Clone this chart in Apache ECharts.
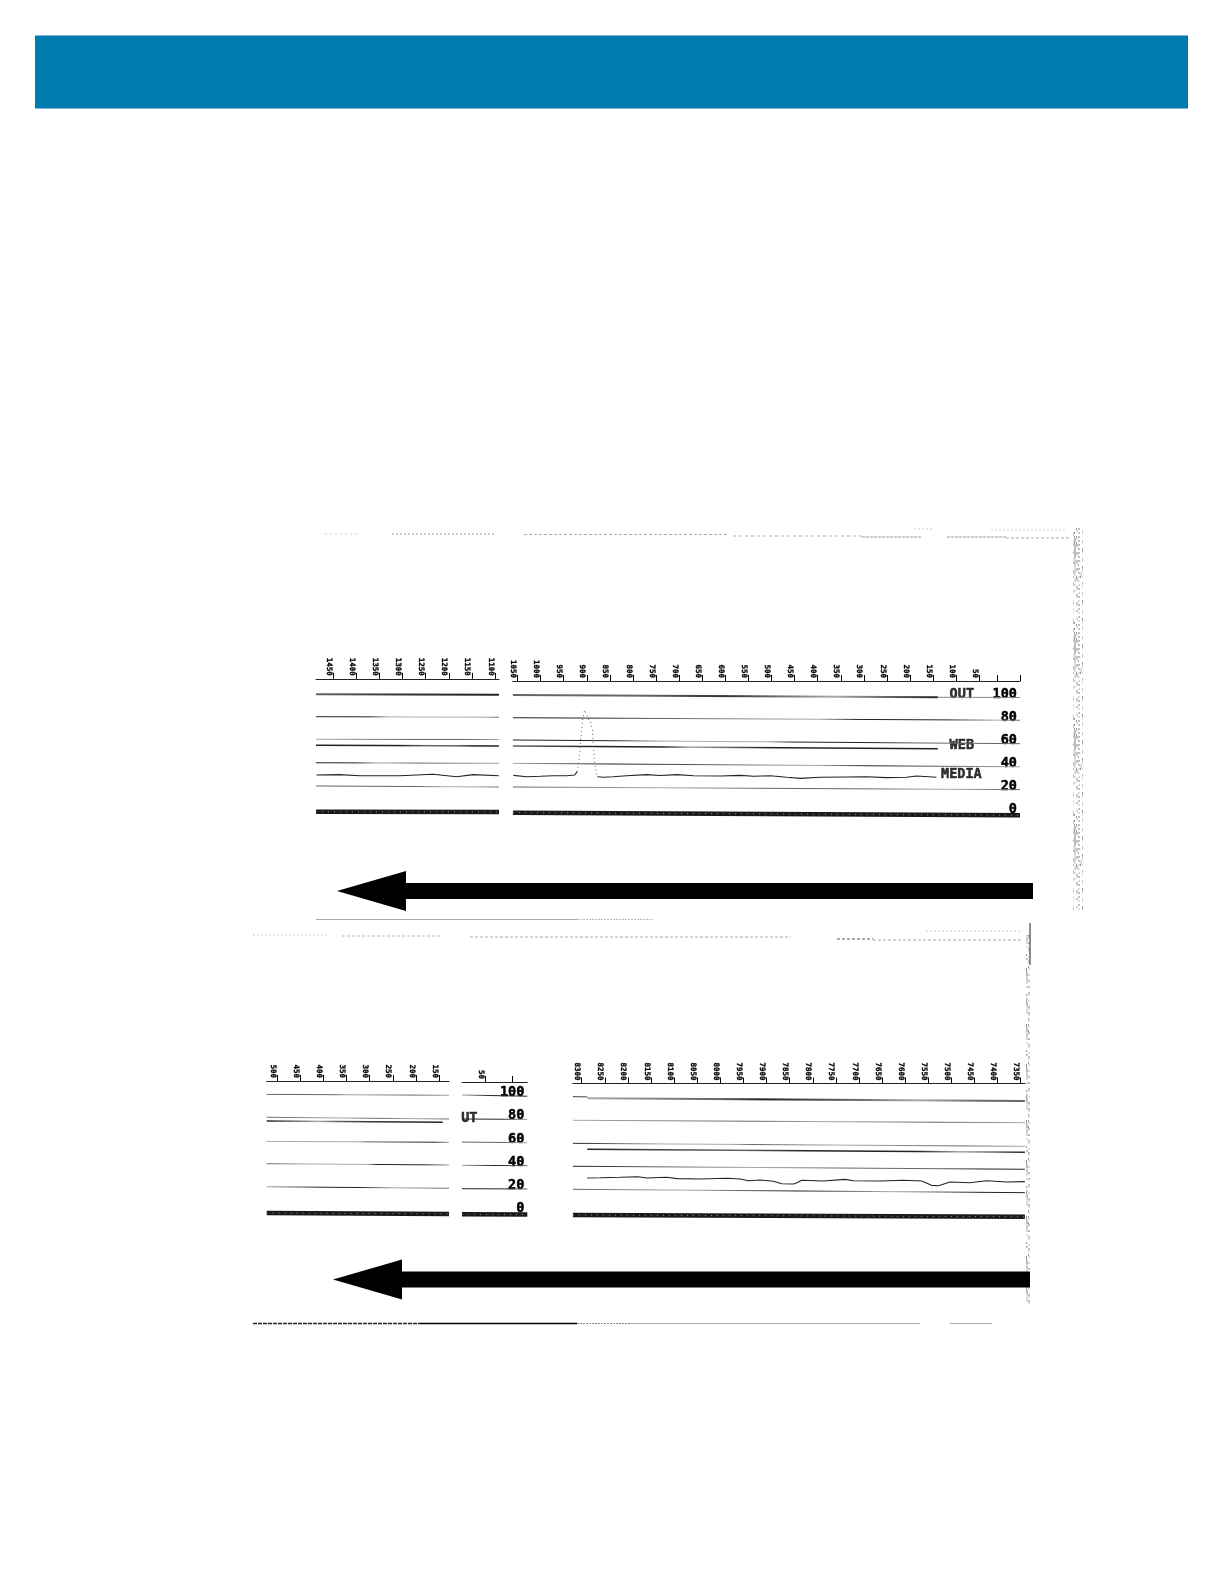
<!DOCTYPE html>
<html><head><meta charset="utf-8">
<script src="https://cdn.jsdelivr.net/npm/echarts@6/dist/echarts.min.js"></script>
<style>html,body{margin:0;padding:0;background:#fff}#c{width:1224px;height:1584px}</style>
</head><body><div id="c"></div>
<script>
// ---------- tick labels ----------
const TICKS_A1 = [1450,1400,1350,1300,1250,1200,1150,1100];
const TICKS_A2 = [1050,1000,950,900,850,800,750,700,650,600,550,500,450,400,350,300,250,200,150,100,50];
const EXTRA_TICKS_A2 = [12,-38];
const TICKS_B1 = [500,450,400,350,300,250,200,150];
const TICKS_B2 = [50];
const EXTRA_TICKS_B2 = [-10];
const TICKS_B3 = [8300,8250,8200,8150,8100,8050,8000,7950,7900,7850,7800,7750,7700,7650,7600,7550,7500,7450,7400,7350];
const PERCENT_LABELS = [0,20,40,60,80,100];

// ---------- top strip: level lines ----------
const A1_OUT  = [[1487,102.8],[1091.5,102.4]];
const A1_L80  = [[1487,83.4],[1091.5,82.9]];
const A1_L60  = [[1487,63.8],[1091.5,63.6]];
const A1_WEB  = [[1487,58.6],[1091.5,58]];
const A1_L40  = [[1487,43.5],[1091.5,43]];
const A1_L20  = [[1487,23.4],[1091.5,22.5]];
const A1_ZERO = [[1487,1.1],[1091.5,0.9]];
const A1_MEDIA = [[1486,32.9],[1436,33.2],[1392,32.3],[1306,32.3],[1234,33.5],[1183,31.4],[1147,33.2],[1092,32.3]];

const A2_OUT  = [[1060,102.2],[140,100.2]];
const A2_OUT_END = [[140,100.2],[-38,100]];
const A2_L80  = [[1060,82.5],[-38,80.3]];
const A2_L60  = [[1060,63.2],[-38,60]];
const A2_WEB  = [[1060,58],[140,55.7]];
const A2_L40  = [[1060,43],[-38,40]];
const A2_L20  = [[1060,22.5],[-38,20.2]];
const A2_ZERO = [[1060,0.3],[-38,-2]];
const A2_MEDIA_LEFT = [[1059,32.6],[1030,31.4],[1001,31.8],[973,32.3],[944,32.3],[926,32.9],[921,35.8]];
const A2_MEDIA_PEAK = [[921,35.8],[916,48.7],[913,64.7],[909,80.5],[905,89.2],[900,84.8],[896,80.5],[891.6,79],[888,71.9],[886,57.4],[883,43],[880,35.8],[877,31.4]];
const A2_MEDIA_RIGHT = [[877,31.4],[864,30.9],[843,31.4],[814,32.3],[770,33.2],[741,32.5],[705,33.2],[669,32.3],[611,32],[568,32.6],[539,31.8],[503,32.3],[467,30.9],[438,30],[395,30.9],[338,31.2],[294,31.4],[251,30.6],[208,30.9],[186,32],[143,30.9]];

// ---------- bottom strip: level lines ----------
const B1_L100 = [[523,101.6],[128.5,100.8]];
const B1_L80U = [[523,81.8],[128.5,80.3]];
const B1_OUT  = [[523,78.6],[142,77.5]];
const B1_L60  = [[523,61],[128.5,60.2]];
const B1_L40  = [[523,41.7],[128.5,40.6]];
const B1_L20  = [[523,21.8],[128.5,20.5]];
const B1_ZERO = [[523,-0.9],[128.5,-1.7]];

const B2_L100 = [[99.8,101],[-41.5,100]];
const B2_L80  = [[99.8,80.3],[-41.5,80]];
const B2_L60  = [[99.8,60.4],[-41.5,59.8]];
const B2_L40  = [[99.8,40.3],[-41.5,40]];
const B2_L20  = [[99.8,20.1],[-41.5,19.9]];
const B2_ZERO = [[99.8,-2],[-41.5,-2.2]];

const B3_STUB = [[8319,99.6],[8288,99.4]];
const B3_OUT  = [[8288,98.2],[7341,95.9]];
const B3_L80  = [[8319,79.2],[7341,77.1]];
const B3_L60  = [[8319,59.3],[7341,56.7]];
const B3_WEB  = [[8288,54.1],[7341,51.7]];
const B3_L40  = [[8319,39.5],[7341,36.9]];
const B3_L20  = [[8319,19.6],[7341,16.7]];
const B3_ZERO = [[8319,-2.6],[7341,-4.1]];
const B3_MEDIA = [[8288,29.4],[8260,29.6],[8217,30],[8178,30.5],[8159,29.4],[8116,30],[8094,28.8],[8044,28.5],[7986,29.1],[7957,28.5],[7939,27],[7914,27.6],[7885,26.5],[7867,24.4],[7842,24.2],[7834,25.3],[7824,27.4],[7777,26.8],[7730,28.2],[7712,27],[7654,26.8],[7604,27.4],[7564,26.8],[7543,23],[7528,22.7],[7503,25.9],[7460,25.3],[7424,27],[7380,25.9],[7341,26.2]];

// ---------- printed captions (x value, level, text) ----------
const A2_CAPTIONS = [[88,103,'OUT'],[88,58.6,'WEB'],[89,33.5,'MEDIA']];
const B2_CAPTIONS = [[84,80.5,'UT']];

// ---------- layout ----------
const MONO = '"DejaVu Sans Mono", "Liberation Mono", monospace';
const panels = [
 {left:316,right:499,top:678.8,zero:813,k:1.155,min:1091.5,max:1487,ticks:TICKS_A1,extra:[]},
 {left:512.7,right:1020,top:681,zero:813,k:1.155,min:-38,max:1060.5,ticks:TICKS_A2,extra:EXTRA_TICKS_A2,labels:true},
 {left:266.7,right:449,top:1081,zero:1212,k:1.158,min:128.5,max:523,ticks:TICKS_B1,extra:[]},
 {left:462,right:527.3,top:1082,zero:1212,k:1.158,min:-41.5,max:99.8,ticks:TICKS_B2,extra:EXTRA_TICKS_B2,labels:true},
 {left:572.7,right:1025,top:1083.5,zero:1212,k:1.158,min:7340.7,max:8319.5,ticks:TICKS_B3,extra:[]}
];
const BOTTOM_VALUE = -20;
const grid=[],xAxis=[],yAxis=[],series=[];
panels.forEach((p,i)=>{
  const maxY=(p.zero-p.top)/p.k;
  const bottomPx=p.zero-BOTTOM_VALUE*p.k;
  grid.push({left:p.left,width:p.right-p.left,top:p.top,height:bottomPx-p.top});
  xAxis.push({type:'value',gridIndex:i,inverse:true,min:p.min,max:p.max,position:'top',splitLine:{show:false},
    axisLine:{show:true,onZero:false,lineStyle:{color:'#222',width:1}},
    axisTick:{show:true,length:6,customValues:p.ticks.concat(p.extra),lineStyle:{color:'#000',width:1}},
    axisLabel:{show:true,customValues:p.ticks,rotate:90,margin:3,hideOverlap:false,showMinLabel:true,showMaxLabel:true,
      fontFamily:MONO,fontWeight:'bold',fontSize:7.5,lineHeight:9,verticalAlign:'top',color:'#000',
      textBorderColor:'#000',textBorderWidth:0.3,formatter:v=>String(v)}});
  yAxis.push({type:'value',gridIndex:i,min:BOTTOM_VALUE,max:maxY,interval:20,position:'right',show:!!p.labels,splitLine:{show:false},
    axisLine:{show:false},axisTick:{show:false},
    axisLabel:{show:!!p.labels,inside:true,margin:3,fontFamily:MONO,fontWeight:'bold',fontSize:13.5,color:'#000',
      textBorderColor:'#000',textBorderWidth:0.5,lineHeight:7,verticalAlign:'bottom',
      formatter:v=>PERCENT_LABELS.includes(v)?String(v):''}});
});
const D='#222',M='#666',L='#aaa';
function tone(){ // tone(0,D, .4,L, ...) -> left-to-right ink density of a scanned line
  const a=arguments,stops=[];
  for(let i=0;i<a.length;i+=2) stops.push({offset:a[i],color:a[i+1]});
  return new echarts.graphic.LinearGradient(0,0,1,0,stops);
}
function line(i,data,width,color,extra){
  series.push(Object.assign({type:'line',xAxisIndex:i,yAxisIndex:i,data,symbol:'none',silent:true,clip:false,
    lineStyle:{width:width,color:color||'#555'}},extra||{}));
}
function zero(i,data){
  line(i,data,4.5,'#1a1a1a');
  line(i,data,1,'#999',{lineStyle:{width:1,color:'#8a8a8a',type:[1,5]}});
}
function captions(i,data){
  series.push({type:'scatter',xAxisIndex:i,yAxisIndex:i,data,symbolSize:0,clip:false,silent:true,
    label:{show:true,position:'inside',formatter:d=>d.value[2],fontFamily:MONO,fontWeight:'bold',fontSize:13.5,color:'#000',textBorderColor:'#000',textBorderWidth:0.5}});
}
// top strip
line(0,A1_OUT,2,tone(0,M,.5,'#333',1,'#222'));
line(0,A1_L80,1,tone(0,D,.3,D,.4,L,.9,L,1,M));
line(0,A1_L60,1,tone(0,L,.5,M,.8,M,1,L));
line(0,A1_WEB,1.5,tone(0,D,.45,D,.6,M,.75,M,.85,D,1,D));
line(0,A1_L40,1,tone(0,D,.22,D,.35,L,.55,M,1,L));
line(0,A1_L20,1,tone(0,M,.55,M,.7,L,.85,L,1,M));
zero(0,A1_ZERO);line(0,A1_MEDIA,1.1,'#222');
line(1,A2_OUT,2,tone(0,M,.3,M,.5,'#333',.75,L,1,D));line(1,A2_OUT_END,1,'#888');
line(1,A2_L80,1,tone(0,D,.15,D,.3,M,.6,L,.68,D,.85,D,.95,L,1,M));
line(1,A2_L60,1,tone(0,D,.2,D,.3,L,.5,L,.55,D,.7,D,.8,M,1,M));
line(1,A2_WEB,1.5,tone(0,M,.2,D,.35,D,.42,L,.6,D,1,D));
line(1,A2_L40,1,tone(0,L,.2,D,.4,M,.6,L,.7,D,.85,M,1,L));
line(1,A2_L20,1,tone(0,M,.3,L,.5,M,.7,M,.85,L,1,M));
zero(1,A2_ZERO);
line(1,A2_MEDIA_LEFT,1.1,'#222');line(1,A2_MEDIA_RIGHT,1.1,'#222');
line(1,A2_MEDIA_PEAK,1,'#666',{lineStyle:{width:1,color:'#666',type:[1,3]}});
captions(1,A2_CAPTIONS);
// bottom strip
line(2,B1_L100,1,tone(0,M,.38,M,.45,L,.8,M,1,L));
line(2,B1_L80U,1,tone(0,M,.4,L,.6,M,.8,L,1,M));
line(2,B1_OUT,1.5,tone(0,D,.3,L,.4,M,.6,'#333',1,D));
line(2,B1_L60,1,tone(0,L,.5,L,.55,M,.9,D,1,L));
line(2,B1_L40,1,tone(0,M,.25,L,.55,L,.6,D,.85,D,1,L));
line(2,B1_L20,1,tone(0,L,.3,D,.5,D,.7,L,1,M));
zero(2,B1_ZERO);
line(3,B2_L100,1,tone(0,L,.45,D,1,D));line(3,B2_L80,1,tone(0,D,.6,D,1,L));line(3,B2_L60,1,tone(0,M,.6,M,1,L));
line(3,B2_L40,1,tone(0,L,.5,D,1,M));line(3,B2_L20,1,tone(0,D,.6,D,1,M));zero(3,B2_ZERO);
captions(3,B2_CAPTIONS);
line(4,B3_STUB,1,'#444');line(4,B3_OUT,2,tone(0,L,.3,M,.4,D,.6,M,.75,L,.9,M,1,M));
line(4,B3_L80,1,tone(0,L,.4,M,.55,L,.8,M,1,L));
line(4,B3_L60,1,tone(0,D,.2,L,.35,L,.4,M,.6,L,.85,M,1,L));
line(4,B3_WEB,1.5,tone(0,D,.35,M,.5,D,.75,D,.85,L,1,D));
line(4,B3_L40,1,tone(0,D,.4,L,.6,M,.8,M,.9,D,1,D));
line(4,B3_L20,1,tone(0,M,.25,L,.5,D,.7,L,.9,D,1,D));
zero(4,B3_ZERO);line(4,B3_MEDIA,1.1,'#222');

// ---------- page furniture ----------
function stipple(){ // deterministic scanner-edge speckle tile
  const c=document.createElement('canvas');c.width=40;c.height=96;
  const g=c.getContext('2d');
  for(let y=0;y<96;y+=2)for(let x=0;x<40;x+=2){
    const h=((x*73+y*151+(x*y)%97*31)%101)/101;
    if(h<0.55){g.fillStyle=h<0.08?'#999':h<0.3?'#c0c0c0':'#dcdcdc';g.fillRect(x,y,h<0.08?1:2,2);}
  }
  return {image:c,repeat:'repeat'};
}
const STIPPLE=stipple();
function arrow(tipX,cy,baseX,endX){
  return {type:'polygon',silent:true,z:20,shape:{points:[[tipX,cy],[baseX,cy-20],[baseX,cy-8],[endX,cy-8],[endX,cy+8],[baseX,cy+8],[baseX,cy+20]]},style:{fill:'#000'}};
}
function rule(x1,x2,y,color,w,dash){
  return {type:'line',silent:true,shape:{x1,y1:y,x2,y2:y},style:{stroke:color,lineWidth:w||1,lineDash:dash||null}};
}
function vrule(x,y1,y2,color,w,dash){
  return {type:'line',silent:true,shape:{x1:x,y1,x2:x,y2},style:{stroke:color,lineWidth:w||1,lineDash:dash||null}};
}
const graphic=[
 {type:'rect',silent:true,shape:{x:35,y:35.5,width:1153,height:73},style:{fill:'#007BB0'}},
 // scan noise, top sheet
 rule(325,360,534,'#ccc',1,[2,3]),rule(392,494,534,'#999',1,[2,2]),rule(524,728,534.5,'#aaa',1,[3,2]),rule(733,862,536,'#aaa',1,[3,3]),rule(862,922,537,'#999',1,[3,1]),
 rule(947,1006,537,'#999',1,[3,1]),rule(1006,1069,538,'#aaa',1,[3,2]),rule(991,1066,530,'#ccc',1,[2,2]),rule(914,934,529,'#ccc',1,[2,2]),
 {type:'rect',silent:true,shape:{x:1073,y:528,width:10,height:382},style:{fill:STIPPLE}},
 // scan noise, bottom sheet
 rule(253,329,935,'#ccc',1,[2,2]),rule(342,441,936,'#bbb',1,[3,2]),rule(470,791,937,'#aaa',1,[3,2]),rule(837,873,939,'#555',1,[3,2]),rule(873,1021,940,'#aaa',1,[3,2]),rule(926,1021,931,'#ccc',1,[2,2]),
 {type:'rect',silent:true,shape:{x:1026,y:935,width:4,height:370},style:{fill:STIPPLE}},
 vrule(1030,923,965,'#666',1.5),
 // rules under the arrows
 rule(316,577,919.5,'#aaa',1.2),rule(577,653,919.5,'#bbb',1,[2,1]),
 rule(253,420,1323.5,'#222',1.3,[4,1]),rule(420,577,1323.5,'#000',1.3),rule(577,630,1323.5,'#888',1,[2,1]),rule(630,920,1323.5,'#aaa',1.2),rule(950,992,1323.5,'#aaa',1.2),
 arrow(337,891,406,1033),arrow(333,1279.5,402,1030)
];
const chart=echarts.init(document.getElementById('c'),null,{renderer:'canvas'});
chart.setOption({animation:false,backgroundColor:'#fff',tooltip:{show:false},legend:{show:false},grid,xAxis,yAxis,series,graphic});
</script></body></html>
